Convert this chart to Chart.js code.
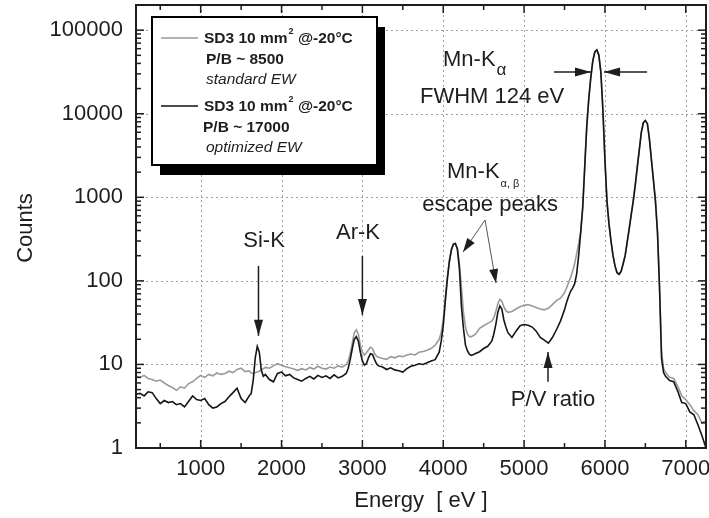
<!DOCTYPE html>
<html lang="en">
<head>
    <meta charset="UTF-8">
    <title>SD3 spectrum</title>
    <script src="https://cdn.jsdelivr.net/npm/chart.js"></script>
    <style>
        body { margin: 0; background: #fff; }
        #wrap { width: 709px; height: 518px; }
    </style>
</head>
<body>
    <div id="wrap"><canvas id="spec" width="709" height="518"></canvas></div>

    <script>
        // energy grid (eV), finer around the peaks
        const energy = [
            200, 250, 300, 350, 400, 450, 500, 550, 600, 650, 700, 750, 800, 850, 900, 950, 1000, 1050, 1100, 1150, 1200, 1250, 1300, 1350, 1400, 1450, 1500, 1550, 1600,
            1625, 1650, 1675, 1700, 1725, 1750, 1775, 1800,
            1850, 1900, 1950, 2000, 2050, 2100, 2150, 2200, 2250, 2300, 2350, 2400, 2450, 2500, 2550, 2600, 2650, 2700, 2750, 2800,
            2825, 2850, 2875, 2900, 2925, 2950, 2975, 3000, 3025, 3050, 3075, 3100, 3125, 3150, 3175, 3200,
            3250, 3300, 3350, 3400, 3450, 3500, 3550, 3600, 3650, 3700, 3750, 3800, 3850, 3900, 3950,
            3975, 4000, 4025, 4050, 4075, 4100, 4125, 4150, 4175, 4200, 4225, 4250, 4275, 4300, 4325, 4350,
            4400, 4450, 4500, 4550, 4600,
            4625, 4650, 4675, 4700, 4725, 4750, 4775, 4800,
            4850, 4900, 4950, 5000, 5050, 5100, 5150, 5200, 5250, 5300, 5350,
            5400, 5450, 5500,
            5525, 5550, 5575, 5600, 5625, 5650, 5675, 5700, 5725, 5750,
            5775, 5800, 5825, 5850, 5875, 5900, 5925, 5950, 5975, 6000,
            6025, 6050, 6075, 6100, 6125, 6150, 6175, 6200, 6225, 6250,
            6275, 6300, 6325, 6350, 6375, 6400, 6425, 6450, 6475, 6500,
            6525, 6550, 6575, 6600, 6625, 6650, 6675, 6700, 6725, 6750,
            6800, 6850, 6900, 6950, 7000, 7050, 7100, 7150, 7200, 7250
        ];

        // standard EW, P/B ~ 8500 (grey)
        const countsStandard = [
            7.2, 7.0, 7.4, 6.8, 6.6, 6.3, 6.5, 6.0, 5.6, 5.3, 4.9, 5.4, 5.2, 5.9, 6.2, 6.8, 7.4, 7.0, 7.6, 7.3, 7.9, 7.6, 7.8, 8.3, 8.0, 8.7, 9.0, 8.2, 8.4,
            7.9, 7.8, 8.0, 8.1, 8.3, 8.6, 8.9, 9.2,
            9.0, 9.6, 10.2, 9.8, 9.4, 9.1, 8.8, 8.5, 8.9, 8.6, 9.2, 8.8, 9.5, 9.0, 8.8, 9.3, 9.0, 9.6, 9.3, 10.0,
            11.0, 13.5, 18, 24, 26, 23, 17, 14, 13, 13.8, 15, 16, 15.5, 13.5, 12.5, 12.2,
            11.8, 11.5, 12.4, 12.0, 12.6, 12.4, 13.0, 13.3, 13.0, 14.0, 14.3, 14.8, 15.5, 17, 20,
            24, 34, 62, 110, 175, 238, 276, 280, 245, 160, 85, 42, 28, 23, 21.5, 21.5,
            23, 27, 29, 31, 33,
            36, 43, 53, 60, 57, 49, 44, 42,
            43, 46, 49, 51, 52, 50, 48, 46, 45, 47, 52,
            58, 62, 72,
            82, 95, 110, 130, 160, 210, 280, 380, 750, 2300,
            7000, 15000, 27000, 43000, 55000, 58000, 50000, 31000, 11000, 2800,
            900, 480, 300, 200, 150, 125, 120, 130, 160, 200,
            290, 420, 620, 900, 1400, 2300, 3700, 6000, 7800, 8300,
            7600, 5000, 2800, 1600, 900, 380, 85, 14, 9, 8,
            7.0, 6.8, 5.5, 4.2, 3.8, 3.3, 2.8, 2.5, 2.0, 2.1
        ];

        // optimized EW, P/B ~ 17000 (black)
        const countsOptimized = [
            4.4, 4.5, 4.2, 4.7, 4.6, 3.9, 3.4, 3.7, 3.5, 3.6, 3.3, 3.4, 3.1, 3.6, 4.2, 3.8, 3.7, 3.9, 3.3, 3.0, 3.1, 3.4, 3.6, 4.1, 4.6, 5.2, 3.9, 3.5, 4.2,
            4.5, 6.5, 12, 16.4, 14, 8.5, 7.2, 7.6,
            6.6, 6.2, 7.8, 8.1, 7.3, 7.6, 6.9, 6.6, 6.3, 6.8, 7.2, 6.7, 7.4, 7.0, 7.3, 6.8, 7.5, 6.9, 7.2, 7.8,
            9.0, 11.5, 15.5, 20, 21.5, 19, 14, 11, 9.8, 10.2, 12, 13.4, 13.2, 11.5, 10.2, 9.6,
            9.3, 8.7, 9.1, 8.6, 8.4, 8.1, 8.9, 9.5, 9.8, 10.2, 10.0, 10.5, 11.0, 11.4, 14,
            19, 29, 56, 102, 168, 232, 274, 280, 240, 140, 50, 27, 17, 14.5, 13.2, 12.8,
            13.5, 14.2, 15.5, 16.5, 19,
            23, 30, 42, 50, 46, 34, 28, 24,
            21, 25, 29, 30, 29.5, 28, 25, 21, 19.5, 18.0, 21,
            26, 33, 45,
            55, 65, 75, 82, 92, 120, 200, 380, 750, 2300,
            7000, 15000, 27000, 43000, 55000, 58000, 50000, 31000, 11000, 2800,
            900, 480, 300, 200, 150, 125, 120, 130, 160, 200,
            290, 420, 620, 900, 1400, 2300, 3700, 6000, 7800, 8300,
            7600, 5000, 2800, 1600, 900, 380, 85, 12, 8, 7.2,
            6.4, 6.2, 4.8, 3.5, 3.4, 2.7, 2.5, 1.9, 1.4, 1.0
        ];

        const xTicks = [1000, 2000, 3000, 4000, 5000, 6000, 7000];
        const yTicks = [1, 10, 100, 1000, 10000, 100000];

        // annotation arrows: [E start, counts start, E tip, counts tip]
        const arrows = [
            [1715, 151, 1715, 22],      // Si-K
            [3000, 198, 3000, 39],      // Ar-K
            [5296, 6.2, 5296, 14.1],    // P/V ratio
            [5370, 31600, 5828, 31600], // FWHM left
            [6521, 31600, 5989, 31600]  // FWHM right
        ];
        const escapeArrows = [
            [4517, 535, 4245, 221],
            [4517, 535, 4653, 94]
        ];

        const FONT = "'Liberation Sans', Arial, Helvetica, sans-serif";
        const INK = '#1e1e1e';

        function pathLine(ctx, x1, y1, x2, y2) {
            ctx.beginPath();
            ctx.moveTo(x1, y1);
            ctx.lineTo(x2, y2);
            ctx.stroke();
        }

        function arrowHead(ctx, x1, y1, x2, y2, len, half) {
            const a = Math.atan2(y2 - y1, x2 - x1);
            ctx.beginPath();
            ctx.moveTo(x2, y2);
            ctx.lineTo(x2 - len * Math.cos(a) + half * Math.sin(a), y2 - len * Math.sin(a) - half * Math.cos(a));
            ctx.lineTo(x2 - len * Math.cos(a) - half * Math.sin(a), y2 - len * Math.sin(a) + half * Math.cos(a));
            ctx.closePath();
            ctx.fill();
        }

        const decor = {
            id: 'decor',
            beforeDatasetsDraw(chart) {
                const { ctx, chartArea: a, scales: { x, y } } = chart;
                ctx.save();
                ctx.strokeStyle = '#a0a0a0';
                ctx.lineWidth = 1;
                ctx.setLineDash([2, 3]);
                xTicks.forEach(v => {
                    const px = Math.round(x.getPixelForValue(v)) + 0.5;
                    pathLine(ctx, px, a.top, px, a.bottom);
                });
                yTicks.slice(1).forEach(v => {
                    const py = Math.round(y.getPixelForValue(v)) + 0.5;
                    pathLine(ctx, a.left, py, a.right, py);
                });
                ctx.restore();
            },
            afterDatasetsDraw(chart) {
                const { ctx, chartArea: a, scales: { x, y } } = chart;
                ctx.save();
                ctx.strokeStyle = INK;
                ctx.fillStyle = INK;

                // inward ticks on all four sides
                ctx.lineWidth = 1.5;
                for (let v = 500; v < 7250; v += 500) {
                    const px = x.getPixelForValue(v);
                    const len = v % 1000 === 0 ? 8 : 5;
                    pathLine(ctx, px, a.bottom, px, a.bottom - len);
                    pathLine(ctx, px, a.top, px, a.top + len);
                }
                for (let k = 0; k <= 5; k++) {
                    for (let d = 1; d <= 9; d++) {
                        const v = d * Math.pow(10, k);
                        if (v > 200000) continue;
                        const py = y.getPixelForValue(v);
                        const len = d === 1 ? 8 : 5;
                        pathLine(ctx, a.left, py, a.left + len, py);
                        pathLine(ctx, a.right, py, a.right - len, py);
                    }
                }
                ctx.lineWidth = 2;
                ctx.strokeRect(a.left, a.top, a.right - a.left, a.bottom - a.top);

                // arrows
                ctx.lineWidth = 1.5;
                arrows.forEach(([e1, c1, e2, c2]) => {
                    const x1 = x.getPixelForValue(e1), y1 = y.getPixelForValue(c1);
                    const x2 = x.getPixelForValue(e2), y2 = y.getPixelForValue(c2);
                    pathLine(ctx, x1, y1, x2, y2);
                    arrowHead(ctx, x1, y1, x2, y2, 16, 4.5);
                });
                escapeArrows.forEach(([e1, c1, e2, c2]) => {
                    const x1 = x.getPixelForValue(e1), y1 = y.getPixelForValue(c1);
                    const x2 = x.getPixelForValue(e2), y2 = y.getPixelForValue(c2);
                    ctx.strokeStyle = '#555';
                    ctx.lineWidth = 1;
                    pathLine(ctx, x1, y1, x2, y2);
                    arrowHead(ctx, x1, y1, x2, y2, 14, 4.5);
                });

                // labels
                ctx.fillStyle = INK;
                ctx.textBaseline = 'middle';
                ctx.font = '22px ' + FONT;
                ctx.textAlign = 'center';
                ctx.fillText('Si-K', x.getPixelForValue(1784), y.getPixelForValue(300));
                ctx.fillText('Ar-K', x.getPixelForValue(2946), y.getPixelForValue(374));
                ctx.fillText('FWHM 124 eV', x.getPixelForValue(4604), y.getPixelForValue(15850));
                ctx.fillText('escape peaks', x.getPixelForValue(4579), y.getPixelForValue(809));
                ctx.fillText('P/V ratio', x.getPixelForValue(5358), y.getPixelForValue(3.75));

                ctx.textAlign = 'left';
                let lx = x.getPixelForValue(3997), ly = y.getPixelForValue(43900);
                ctx.fillText('Mn-K', lx, ly);
                let w = ctx.measureText('Mn-K').width;
                ctx.font = '17px ' + FONT;
                ctx.fillText('\u03b1', lx + w + 1, ly + 10);

                ctx.font = '22px ' + FONT;
                lx = x.getPixelForValue(4047); ly = y.getPixelForValue(2009);
                ctx.fillText('Mn-K', lx, ly);
                w = ctx.measureText('Mn-K').width;
                ctx.font = '11px ' + FONT;
                ctx.fillText('\u03b1, \u03b2', lx + w + 1, ly + 12);

                // legend box with drop shadow
                const bx = 152, by = 17, bw = 225, bh = 148;
                ctx.fillStyle = '#000';
                ctx.fillRect(bx + 8, by + 10, bw, bh);
                ctx.fillStyle = '#fff';
                ctx.fillRect(bx, by, bw, bh);
                ctx.strokeStyle = '#000';
                ctx.lineWidth = 2;
                ctx.strokeRect(bx, by, bw, bh);

                const entries = [
                    { color: '#9a9a9a', y: 38, pb: 'P/B ~ 8500', ew: 'standard EW', pbx: 206 },
                    { color: '#111', y: 106, pb: 'P/B ~ 17000', ew: 'optimized EW', pbx: 203 }
                ];
                entries.forEach(en => {
                    ctx.strokeStyle = en.color;
                    ctx.lineWidth = 1.6;
                    pathLine(ctx, 161, en.y, 198, en.y);
                    ctx.fillStyle = INK;
                    ctx.font = 'bold 15.5px ' + FONT;
                    ctx.fillText('SD3 10 mm', 204, en.y + 1);
                    let tw = ctx.measureText('SD3 10 mm').width;
                    ctx.font = 'bold 9px ' + FONT;
                    ctx.fillText('2', 204 + tw + 1, en.y - 6);
                    ctx.font = 'bold 15.5px ' + FONT;
                    ctx.fillText(' @-20\u00b0C', 204 + tw + 6, en.y + 1);
                    ctx.fillText(en.pb, en.pbx, en.y + 22);
                    ctx.font = 'italic 15.5px ' + FONT;
                    ctx.fillText(en.ew, 206, en.y + 42);
                });

                // axis titles
                ctx.fillStyle = INK;
                ctx.font = '22px ' + FONT;
                ctx.textAlign = 'center';
                ctx.fillText('Energy  [ eV ]', 421, 501);
                ctx.translate(26, 228);
                ctx.rotate(-Math.PI / 2);
                ctx.fillText('Counts', 0, 0);
                ctx.restore();
            }
        };

        const tickFont = { family: FONT, size: 22 };

        new Chart(document.getElementById('spec'), {
            type: 'line',
            data: {
                labels: energy,
                datasets: [
                    {
                        label: 'SD3 10 mm² @-20°C, P/B ~ 8500, standard EW',
                        data: energy.map((e, i) => ({ x: e, y: countsStandard[i] })),
                        borderColor: '#9a9a9a',
                        borderWidth: 1.6,
                        pointRadius: 0,
                        tension: 0,
                        order: 2
                    },
                    {
                        label: 'SD3 10 mm² @-20°C, P/B ~ 17000, optimized EW',
                        data: energy.map((e, i) => ({ x: e, y: countsOptimized[i] })),
                        borderColor: '#151515',
                        borderWidth: 1.6,
                        pointRadius: 0,
                        tension: 0,
                        order: 1
                    }
                ]
            },
            options: {
                responsive: false,
                animation: false,
                events: [],
                layout: { padding: { top: 5, right: 3, left: 0, bottom: 0 } },
                plugins: { legend: { display: false }, tooltip: { enabled: false } },
                scales: {
                    x: {
                        type: 'linear',
                        min: 200,
                        max: 7250,
                        afterBuildTicks: s => { s.ticks = xTicks.map(v => ({ value: v })); },
                        afterFit: s => { s.height = 70; s.paddingLeft = 0; s.paddingRight = 0; },
                        grid: { display: false, drawTicks: false },
                        border: { display: false },
                        ticks: { font: tickFont, color: INK, padding: 8, maxRotation: 0, callback: v => String(v) }
                    },
                    y: {
                        type: 'logarithmic',
                        min: 1,
                        max: 200000,
                        afterBuildTicks: s => { s.ticks = yTicks.map(v => ({ value: v })); },
                        afterFit: s => { s.width = 136; s.paddingTop = 0; s.paddingBottom = 0; },
                        grid: { display: false, drawTicks: false },
                        border: { display: false },
                        ticks: { font: tickFont, color: INK, padding: 13, callback: v => String(v) }
                    }
                }
            },
            plugins: [decor]
        });
    </script>
</body>
</html>
